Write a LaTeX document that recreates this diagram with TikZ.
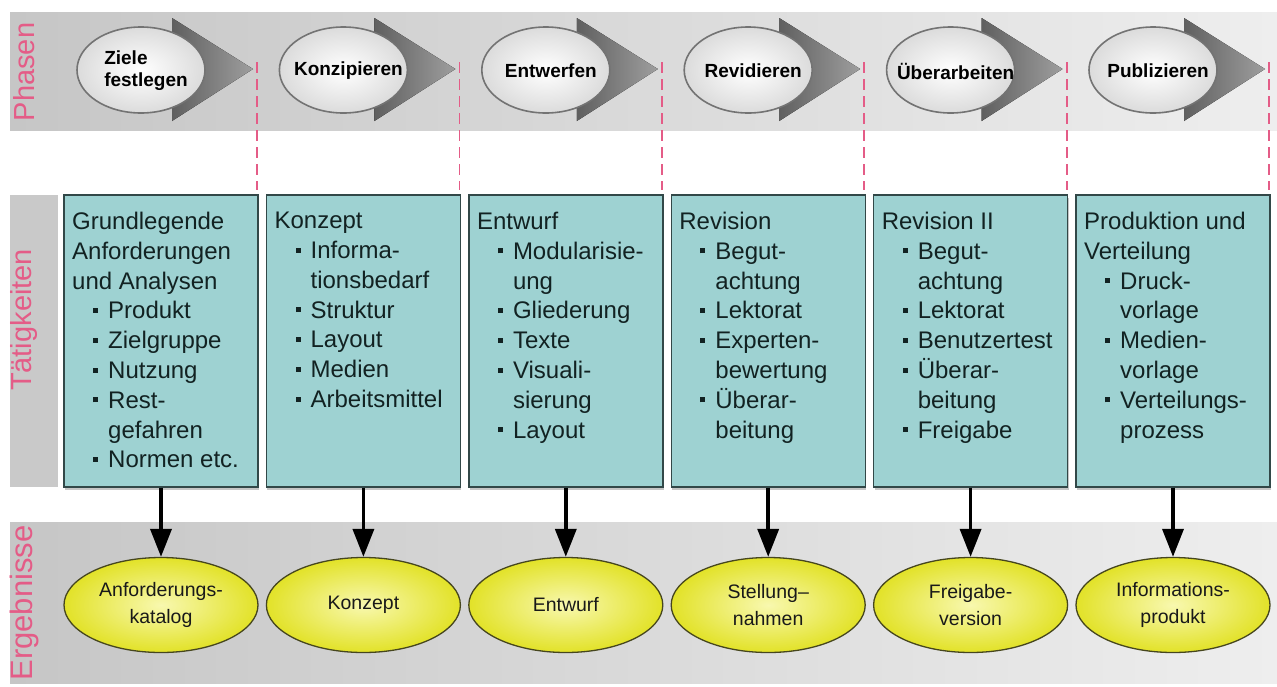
\documentclass[tikz,border=0pt]{standalone}
\usepackage{fontspec}
\setmainfont{Liberation Sans}
\usetikzlibrary{arrows.meta,shapes.geometric,shadows}
\definecolor{bandA}{RGB}{198,198,198}
\definecolor{bandB}{RGB}{238,238,238}
\definecolor{pinkc}{RGB}{228,92,135}
\definecolor{boxfill}{RGB}{158,210,210}
\definecolor{boxline}{RGB}{50,72,72}
\definecolor{boxtext}{RGB}{18,34,34}
\definecolor{yelIn}{RGB}{248,248,175}
\definecolor{yelOut}{RGB}{226,226,40}
\definecolor{yelLine}{RGB}{70,70,30}
\newcommand{\bul}{\hspace*{21pt}\makebox[15pt][l]{\rule[6pt]{5pt}{5pt}}}
\newcommand{\cnt}{\hspace*{36pt}}
\begin{document}
\begin{tikzpicture}[x=1pt,y=-1pt,
  sidelabel/.style={rotate=90,text=pinkc,font=\fontsize{29}{30}\selectfont},
  chevron/.style={left color=black!72,right color=black!38,draw=none},
  phase/.style={ellipse,draw=black!55,line width=1.6pt,inner color=white,outer color=black!14,minimum width=128pt,minimum height=86pt},
  phasetext/.style={font=\bfseries\fontsize{19}{22}\selectfont,align=left,text=black},
  sep/.style={draw=pinkc,line width=1.8pt,dash pattern=on 11pt off 6pt},
  taskbox/.style={rectangle,draw=boxline,line width=1.4pt,fill=boxfill,minimum width=194pt,minimum height=292pt,drop shadow={shadow xshift=1pt,shadow yshift=-3pt,opacity=0.45}},
  tasktext/.style={anchor=north west,inner sep=0pt,align=left,text=boxtext,font=\fontsize{24}{29.8}\selectfont},
  result/.style={ellipse,draw=yelLine,line width=1.3pt,inner color=yelIn,outer color=yelOut,minimum width=194pt,minimum height=95pt,align=center,text=black!90,font=\fontsize{19.5}{27}\selectfont},
  flow/.style={draw=black,line width=3.6pt,-{Triangle[width=21pt,length=28pt]}}
]
\useasboundingbox (0,0) rectangle (1277,686);
% bands
\fill[left color=bandA,right color=bandB] (10,12) rectangle (1277,130);
\fill[bandA!95!white] (10,195) rectangle (58,487);
\fill[left color=bandA,right color=bandB] (10,522) rectangle (1277,683);
\node[sidelabel] (lp) at (24,72) {Phasen};
\node[sidelabel] (lt) at (24,320) {Tätigkeiten};
\node[sidelabel,font=\fontsize{31}{32}\selectfont] (le) at (24,603) {Ergebnisse};
% phases
\foreach \i/\txt in {0/{Ziele\\festlegen},1/Konzipieren,2/Entwerfen,3/Revidieren,4/Überarbeiten,5/Publizieren}{
  \pgfmathsetmacro{\dx}{202.4*\i}
  \begin{scope}[xshift=\dx pt]
    \fill[chevron] (141,32) -- (172,32) -- (172,18) -- (253,69) -- (172,121) -- (172,107) -- (141,107) -- cycle;
    \node[phase] (p\i) at (141,70) {};
    \node[phasetext] (pt\i) at (146,71) {\txt};
    \coordinate (s\i a) at (257,62);
    \coordinate (s\i b) at (257,190);
    \draw[sep] (s\i a) -- (s\i b);
  \end{scope}
}
% task boxes
\foreach \i in {0,...,5}{
  \pgfmathsetmacro{\dx}{202.4*\i}
  \begin{scope}[xshift=\dx pt]
    \node[taskbox] (b\i) at (161,341) {};
  \end{scope}
}
\node[tasktext] (t0) at (72,212) {Grundlegende\\Anforderungen\\und Analysen\\\bul Produkt\\\bul Zielgruppe\\\bul Nutzung\\\bul Rest-\\\cnt gefahren\\\bul Normen etc.};
\node[tasktext] (t1) at (274.4,212) {Konzept\\\bul Informa-\\\cnt tionsbedarf\\\bul Struktur\\\bul Layout\\\bul Medien\\\bul Arbeitsmittel};
\node[tasktext] (t2) at (476.8,212) {Entwurf\\\bul Modularisie-\\\cnt ung\\\bul Gliederung\\\bul Texte\\\bul Visuali-\\\cnt sierung\\\bul Layout};
\node[tasktext] (t3) at (679.2,212) {Revision\\\bul Begut-\\\cnt achtung\\\bul Lektorat\\\bul Experten-\\\cnt bewertung\\\bul Überar-\\\cnt beitung};
\node[tasktext] (t4) at (881.6,212) {Revision II\\\bul Begut-\\\cnt achtung\\\bul Lektorat\\\bul Benutzertest\\\bul Überar-\\\cnt beitung\\\bul Freigabe};
\node[tasktext] (t5) at (1084,212) {Produktion und\\Verteilung\\\bul Druck-\\\cnt vorlage\\\bul Medien-\\\cnt vorlage\\\bul Verteilungs-\\\cnt prozess};
% results
\foreach \i/\txt in {0/{Anforderungs-\\katalog},1/Konzept,2/Entwurf,3/{Stellung–\\nahmen},4/{Freigabe-\\version},5/{Informations-\\produkt}}{
  \pgfmathsetmacro{\dx}{202.4*\i}
  \begin{scope}[xshift=\dx pt]
    \node[result] (r\i) at (161,605) {\txt};
  \end{scope}
  \draw[flow] (b\i.south) -- (r\i.north);
}
\end{tikzpicture}
\end{document}
